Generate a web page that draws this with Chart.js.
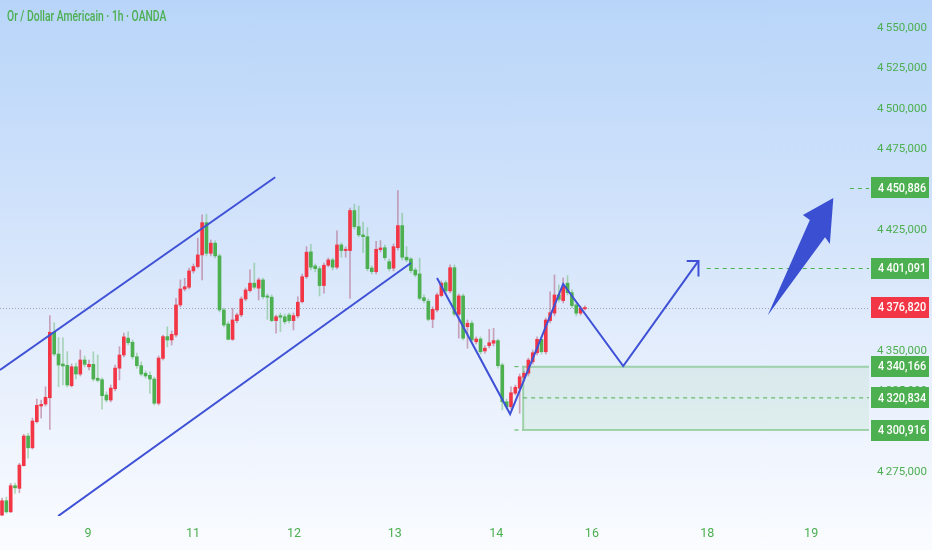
<!DOCTYPE html>
<html>
<head>
<meta charset="utf-8">
<script src="https://cdn.jsdelivr.net/npm/chart.js@4.4.1/dist/chart.umd.min.js"></script>
<style>
  html, body { margin: 0; padding: 0; }
  body {
    width: 932px; height: 550px; overflow: hidden; position: relative;
    background: linear-gradient(180deg, #b8d5f9 0%, #d2e3fb 40%, #eaf1fd 72%, #fafcff 100%);
    font-family: Roboto, "Noto Sans", sans-serif;
  }
  #wrap { position: absolute; left: 0; top: 0; width: 932px; height: 550px; }
  #title {
    position: absolute; left: 7px; top: 8px; color: #4caf50;
    font: 500 14px Roboto, "Noto Sans", sans-serif; white-space: nowrap;
    transform: scaleX(0.74); transform-origin: 0 0;
  }
</style>
</head>
<body>
<div id="wrap"><canvas id="chart" width="932" height="550"></canvas></div>
<div id="title">Or / Dollar Américain · 1h · OANDA</div>
<script>
// OHLC, 1h candles
const opens = [
  4248.2, 4257.1, 4250.2, 4266.4, 4264.8, 4278.8, 4297.2, 4289.9, 4306.1, 4315.8,
  4317.0, 4320.9, 4361.5, 4348.0, 4341.8, 4341.0, 4328.4, 4340.1, 4335.6, 4344.3,
  4340.1, 4341.6, 4333.0, 4332.1, 4322.6, 4319.5, 4326.5, 4339.2, 4347.4, 4357.8,
  4355.3, 4346.3, 4340.8, 4336.1, 4334.8, 4332.5, 4317.5, 4345.3, 4358.8, 4356.7,
  4359.8, 4378.4, 4388.3, 4389.4, 4399.5, 4402.2, 4409.4, 4429.4, 4410.4, 4416.7,
  4408.8, 4375.3, 4366.6, 4357.1, 4368.7, 4372.2, 4382.1, 4387.3, 4391.9, 4388.8,
  4393.9, 4384.0, 4383.2, 4368.7, 4371.8, 4371.1, 4372.2, 4368.7, 4371.6, 4380.4,
  4395.9, 4411.3, 4402.6, 4400.9, 4390.4, 4403.0, 4406.3, 4401.8, 4415.6, 4412.1,
  4412.1, 4436.9, 4426.9, 4421.8, 4420.7, 4401.3, 4399.0, 4412.7, 4413.9, 4405.2,
  4401.2, 4413.9, 4427.6, 4408.0, 4406.9, 4400.1, 4397.6, 4382.9, 4380.7, 4369.5,
  4375.3, 4384.2, 4392.2, 4387.1, 4401.5, 4372.6, 4384.0, 4364.9, 4367.1, 4355.6,
  4357.3, 4349.9, 4353.2, 4354.7, 4356.3, 4341.2, 4318.4, 4315.3, 4323.7, 4326.8,
  4333.6, 4336.1, 4343.2, 4348.8, 4357.1, 4349.4, 4368.7, 4373.3, 4384.6, 4381.1,
  4391.9, 4386.0, 4378.4, 4373.3, 4376.0
];
const highs = [
  4258.8, 4259.4, 4267.9, 4268.0, 4280.3, 4298.2, 4298.9, 4308.3, 4320.1, 4319.5,
  4327.7, 4371.8, 4367.4, 4358.1, 4358.1, 4349.5, 4341.8, 4342.4, 4350.5, 4346.8,
  4344.3, 4349.4, 4347.4, 4333.2, 4324.5, 4328.8, 4341.2, 4352.5, 4361.0, 4361.8,
  4356.7, 4348.6, 4343.1, 4337.5, 4336.9, 4333.8, 4346.8, 4359.8, 4364.9, 4362.3,
  4382.5, 4393.9, 4394.9, 4401.2, 4403.8, 4419.8, 4434.2, 4434.6, 4418.7, 4418.1,
  4410.0, 4376.5, 4368.0, 4376.4, 4373.4, 4383.4, 4388.9, 4400.1, 4404.3, 4395.1,
  4395.1, 4385.2, 4384.6, 4372.2, 4373.4, 4372.8, 4373.4, 4373.4, 4383.5, 4397.6,
  4414.5, 4416.0, 4403.8, 4402.3, 4404.4, 4407.5, 4407.5, 4424.3, 4416.8, 4414.4,
  4438.4, 4440.8, 4439.8, 4429.7, 4426.3, 4402.6, 4417.9, 4418.3, 4415.6, 4406.9,
  4416.2, 4449.3, 4435.3, 4414.5, 4407.7, 4401.3, 4407.4, 4384.6, 4382.1, 4377.2,
  4385.8, 4393.3, 4393.5, 4403.2, 4403.2, 4385.2, 4385.2, 4369.1, 4368.5, 4358.6,
  4358.6, 4353.0, 4363.3, 4363.9, 4357.3, 4342.4, 4320.1, 4327.7, 4328.8, 4335.6,
  4337.5, 4345.5, 4350.5, 4358.6, 4358.6, 4370.3, 4386.6, 4397.0, 4390.8, 4395.1,
  4396.6, 4387.7, 4379.6, 4377.8, 4377.8
];
const lows = [
  4247.6, 4249.4, 4249.8, 4261.7, 4262.0, 4278.6, 4283.4, 4289.1, 4305.2, 4308.2,
  4315.8, 4301.3, 4346.8, 4327.7, 4328.8, 4327.6, 4327.6, 4332.5, 4334.4, 4340.0,
  4338.1, 4331.3, 4330.7, 4313.9, 4318.3, 4318.3, 4325.1, 4331.9, 4346.2, 4353.6,
  4344.9, 4339.3, 4334.4, 4333.1, 4323.6, 4316.4, 4316.4, 4344.3, 4352.5, 4353.6,
  4358.6, 4377.2, 4387.1, 4388.3, 4398.2, 4401.3, 4393.9, 4408.8, 4408.8, 4407.5,
  4374.1, 4364.8, 4356.7, 4356.4, 4367.2, 4371.0, 4380.9, 4386.5, 4388.3, 4381.5,
  4382.1, 4369.5, 4367.9, 4360.9, 4361.9, 4366.6, 4367.2, 4362.9, 4370.3, 4379.6,
  4394.8, 4400.1, 4398.9, 4384.0, 4385.7, 4402.0, 4400.1, 4400.7, 4408.0, 4408.0,
  4382.5, 4425.5, 4420.6, 4410.8, 4399.5, 4397.6, 4397.6, 4411.3, 4406.3, 4399.5,
  4399.5, 4412.5, 4406.3, 4405.1, 4398.2, 4395.8, 4381.5, 4379.6, 4368.5, 4364.3,
  4374.1, 4383.4, 4385.8, 4385.8, 4371.6, 4357.8, 4356.7, 4351.6, 4355.5, 4354.2,
  4348.0, 4348.6, 4351.8, 4353.0, 4339.3, 4313.3, 4313.9, 4313.9, 4322.6, 4311.3,
  4331.9, 4334.4, 4341.8, 4347.4, 4348.0, 4348.0, 4367.2, 4371.6, 4380.3, 4379.6,
  4384.6, 4376.5, 4371.6, 4372.2, 4375.3
];
const closes = [
  4257.1, 4250.2, 4266.4, 4265.1, 4279.2, 4297.2, 4289.9, 4306.5, 4316.2, 4316.8,
  4321.2, 4361.5, 4348.0, 4341.2, 4340.6, 4328.8, 4340.1, 4335.6, 4344.3, 4341.6,
  4341.6, 4332.5, 4331.7, 4322.2, 4319.5, 4326.9, 4339.3, 4347.4, 4358.6, 4355.0,
  4346.3, 4340.8, 4335.6, 4334.4, 4332.5, 4317.5, 4345.5, 4358.8, 4356.7, 4360.2,
  4378.4, 4388.3, 4389.7, 4399.5, 4402.2, 4409.4, 4429.4, 4410.4, 4416.7, 4408.8,
  4375.3, 4366.0, 4357.1, 4369.1, 4372.2, 4382.1, 4387.7, 4391.9, 4389.4, 4393.9,
  4383.5, 4383.2, 4368.7, 4371.1, 4370.8, 4368.0, 4368.7, 4371.8, 4380.1, 4395.9,
  4411.1, 4401.8, 4400.9, 4390.4, 4403.0, 4406.3, 4401.8, 4415.6, 4412.1, 4412.9,
  4436.9, 4426.9, 4421.8, 4420.7, 4400.9, 4399.0, 4412.9, 4413.7, 4407.7, 4400.9,
  4414.5, 4427.6, 4408.0, 4406.3, 4399.7, 4397.0, 4382.5, 4381.1, 4369.5, 4375.7,
  4384.6, 4391.9, 4387.1, 4401.5, 4372.8, 4384.0, 4357.8, 4367.1, 4356.7, 4357.3,
  4349.4, 4351.6, 4355.0, 4356.3, 4340.8, 4318.4, 4315.3, 4324.0, 4327.4, 4333.9,
  4336.1, 4344.3, 4348.8, 4357.1, 4349.4, 4369.1, 4373.6, 4384.6, 4381.9, 4389.7,
  4386.0, 4378.0, 4373.3, 4376.4, 4376.82
];

// time axis: bar index where each day label sits
const dayTickPos = [19.8, 43.9, 67.1, 90.3, 113.6, 135.6, 162.1, 186.0];
const dayTickLabels = ["9", "11", "12", "13", "14", "16", "18", "19"];
const priceTicks = [4275, 4325, 4350, 4425, 4475, 4500, 4525, 4550];

// drawings, in [bar index, price]
const channelUpper = [[-0.46, 4338.1], [62.8, 4457.5]];
const channelLower = [[12.9, 4247.6], [94.0, 4404.4]];
const zigzag = [[100.0, 4395.1], [116.8, 4310.8], [129.0, 4391.4], [142.8, 4340.6], [160.1, 4405.7]];
const zigzagHead = [[157.4, 4405.7], [160.1, 4405.7], [160.1, 4396.0]];
const bigArrow = [[176.0, 4371.8], [185.7, 4431.1], [184.1, 4434.2], [191.1, 4444.6], [190.3, 4416.2], [189.2, 4420.4]];

const zoneTop = 4340.166, zoneMid = 4320.834, zoneBottom = 4300.916, zoneStart = 119.8;
const targetLevels = [4450.886, 4401.091];
const targetStarts = [194.9, 162.0];
const lastPrice = 4376.82;

const GREEN = "#4caf50";
const RED = "#f23645";
const BLUE = "#3f51d6";
const FONT = "Roboto, 'Noto Sans', sans-serif";

const idx = opens.map((_, i) => i);
const isUp = idx.map(i => closes[i] >= opens[i]);

const fmt = (v) => {
  const [int, dec] = v.toFixed(3).split(".");
  return int.slice(0, -3) + "\u2009" + int.slice(-3) + "," + dec;
};
const toXY = (pts) => pts.map(p => ({ x: p[0], y: p[1] }));

const lineDs = (pts, width) => ({
  type: "line",
  data: toXY(pts),
  borderColor: BLUE,
  borderWidth: width || 2,
  pointRadius: 0,
  tension: 0,
  fill: false,
  order: 0,
});

// zone, level lines, arrow and price tags
const overlay = {
  id: "overlay",
  beforeDatasetsDraw(chart) {
    const { ctx, chartArea: a, scales: { x, y } } = chart;
    ctx.save();
    // zone
    const zx = x.getPixelForValue(zoneStart);
    const zt = y.getPixelForValue(zoneTop);
    const zb = y.getPixelForValue(zoneBottom);
    ctx.fillStyle = "rgba(76,175,80,0.09)";
    ctx.fillRect(zx, zt, a.right - zx, zb - zt);
    ctx.strokeStyle = "rgba(76,175,80,0.45)";
    ctx.lineWidth = 2;
    ctx.beginPath();
    ctx.moveTo(a.right, zt); ctx.lineTo(zx, zt); ctx.lineTo(zx, zb); ctx.lineTo(a.right, zb);
    ctx.stroke();
    ctx.lineWidth = 1;
    ctx.strokeStyle = GREEN;
    ctx.setLineDash([4, 4]);
    const zm = y.getPixelForValue(zoneMid);
    ctx.beginPath(); ctx.moveTo(zx, zm); ctx.lineTo(a.right, zm); ctx.stroke();
    const xs = x.getPixelForValue(zoneStart - 2);
    ctx.beginPath();
    ctx.moveTo(xs, zt); ctx.lineTo(zx, zt);
    ctx.moveTo(xs, zb); ctx.lineTo(zx, zb);
    ctx.stroke();
    targetLevels.forEach((v, k) => {
      const py = Math.round(y.getPixelForValue(v)) + 0.5;
      ctx.beginPath(); ctx.moveTo(x.getPixelForValue(targetStarts[k]), py); ctx.lineTo(a.right, py); ctx.stroke();
    });
    // last price dotted line
    ctx.strokeStyle = "rgba(120,123,134,0.6)";
    ctx.setLineDash([1, 2]);
    const ly = Math.round(y.getPixelForValue(lastPrice)) + 0.5;
    ctx.beginPath(); ctx.moveTo(a.left, ly); ctx.lineTo(a.right, ly); ctx.stroke();
    ctx.restore();
  },
  afterDatasetsDraw(chart) {
    const { ctx, scales: { x, y } } = chart;
    ctx.save();
    ctx.fillStyle = "#3b4fd2";
    ctx.beginPath();
    bigArrow.forEach((p, k) => {
      const px = x.getPixelForValue(p[0]), py = y.getPixelForValue(p[1]);
      if (k === 0) ctx.moveTo(px, py); else ctx.lineTo(px, py);
    });
    ctx.closePath();
    ctx.fill();
    ctx.restore();
  },
  afterDraw(chart) {
    const { ctx, chartArea: a, scales: { y } } = chart;
    ctx.save();
    ctx.font = "500 13px " + FONT;
    ctx.textBaseline = "middle";
    const tag = (v, color) => {
      const py = y.getPixelForValue(v);
      ctx.fillStyle = color;
      ctx.fillRect(a.right + 2, Math.round(py - 10.5), 58, 21);
      ctx.fillStyle = "#ffffff";
      ctx.save();
      ctx.translate(a.right + 9, py + 0.5);
      ctx.scale(0.84, 1);
      ctx.fillText(fmt(v), 0, 0);
      ctx.restore();
    };
    [...targetLevels, zoneTop, zoneMid, zoneBottom].forEach(v => tag(v, GREEN));
    tag(lastPrice, RED);
    ctx.restore();
  },
};

new Chart(document.getElementById("chart"), {
  data: {
    datasets: [
      lineDs(channelUpper),
      lineDs(channelLower),
      lineDs(zigzag),
      lineDs(zigzagHead),
      {
        type: "bar",
        data: idx.map(i => ({ x: i, y: [Math.min(opens[i], closes[i]), Math.max(opens[i], closes[i])] })),
        backgroundColor: idx.map(i => (isUp[i] ? RED : GREEN)),
        barThickness: 3,
        minBarLength: 1,
        grouped: false,
        borderWidth: 0,
        order: 1,
      },
      {
        type: "bar",
        data: idx.map(i => ({ x: i, y: [lows[i], highs[i]] })),
        backgroundColor: idx.map(i => (isUp[i] ? "rgba(180,110,140,0.6)" : "rgba(90,180,100,0.45)")),
        barThickness: 1,
        grouped: false,
        borderWidth: 0,
        order: 2,
      },
    ],
  },
  options: {
    responsive: false,
    animation: false,
    events: [],
    layout: { padding: 0 },
    plugins: { legend: { display: false }, tooltip: { enabled: false }, title: { display: false } },
    scales: {
      x: {
        type: "linear",
        min: -0.46,
        max: 199.3,
        offset: false,
        grid: { display: false, drawTicks: false },
        border: { display: false },
        afterFit: (s) => { s.height = 34; s.paddingLeft = 0; s.paddingRight = 0; },
        afterBuildTicks: (s) => { s.ticks = dayTickPos.map(v => ({ value: v })); },
        ticks: {
          autoSkip: false,
          maxRotation: 0,
          minRotation: 0,
          padding: 10,
          color: GREEN,
          font: { family: FONT, size: 12.5 },
          callback: (v, i) => dayTickLabels[i],
        },
      },
      y: {
        type: "linear",
        position: "right",
        min: 4247.64,
        max: 4567.35,
        grid: { display: false, drawTicks: false },
        border: { display: false },
        afterFit: (s) => { s.width = 63; s.paddingTop = 0; s.paddingBottom = 0; },
        afterBuildTicks: (s) => { s.ticks = priceTicks.map(v => ({ value: v })); },
        ticks: {
          padding: 8,
          color: GREEN,
          font: { family: FONT, size: 11.5 },
          callback: (v) => fmt(v),
        },
      },
    },
  },
  plugins: [overlay],
});
</script>
</body>
</html>
